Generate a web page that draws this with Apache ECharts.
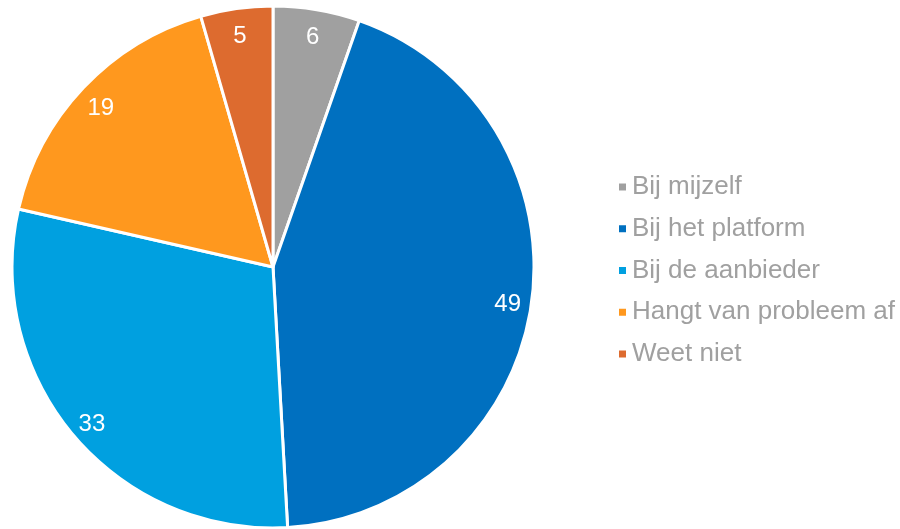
<!DOCTYPE html>
<html>
<head>
<meta charset="utf-8">
<script src="https://cdn.jsdelivr.net/npm/echarts@6/dist/echarts.min.js"></script>
<style>
  html, body { margin: 0; padding: 0; background: #fff; }
  #chart { width: 900px; height: 529px; }
</style>
</head>
<body>
<div id="chart"></div>
<script>
var categories = ['Bij mijzelf', 'Bij het platform', 'Bij de aanbieder', 'Hangt van probleem af', 'Weet niet'];
var values = [6, 49, 33, 19, 5];
var colors = ['#A0A0A0', '#0070C0', '#00A0E0', '#FF981E', '#DD6B2F'];

var pieData = categories.map(function (name, i) {
  return { name: name, value: values[i], itemStyle: { color: colors[i] } };
});
// second copy only used to place labels near the rim
var labelData = categories.map(function (name, i) {
  return { name: name, value: values[i] };
});

var myChart = echarts.init(document.getElementById('chart'));
var option = {
  backgroundColor: '#fff',
  animation: false,
  legend: {
    orient: 'vertical',
    left: 612,
    top: 169,
    itemWidth: 9,
    itemHeight: 9,
    itemGap: 15.75,
    icon: 'rect',
    textStyle: { fontSize: 26, color: '#A0A0A0', fontFamily: 'Liberation Sans' },
    data: categories
  },
  series: [{
    type: 'pie',
    center: [273, 267],
    radius: [0, 261],
    startAngle: 90,
    clockwise: true,
    label: { show: false },
    labelLine: { show: false },
    itemStyle: { borderColor: '#fff', borderWidth: 3 },
    emphasis: { disabled: true },
    data: pieData
  }, {
    type: 'pie',
    center: [273, 267],
    radius: [207, 261],
    startAngle: 90,
    clockwise: true,
    silent: true,
    legendHoverLink: false,
    itemStyle: { color: 'rgba(0,0,0,0)', borderWidth: 0 },
    label: {
      show: true,
      position: 'inside',
      formatter: '{c}',
      offset: [0, 4],
      color: '#fff',
      fontSize: 24,
      fontFamily: 'Liberation Sans'
    },
    labelLine: { show: false },
    emphasis: { disabled: true },
    data: labelData
  }]
};
myChart.setOption(option);
</script>
</body>
</html>
